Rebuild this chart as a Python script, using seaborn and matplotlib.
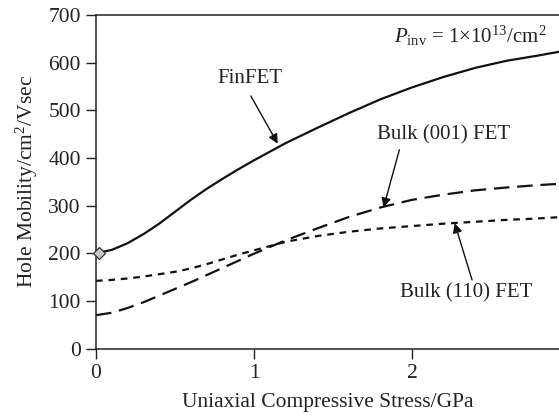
import numpy as np
import pandas as pd
import seaborn as sns
import matplotlib
matplotlib.use("Agg")
import matplotlib.pyplot as plt

# Hole mobility versus uniaxial compressive stress
stress_gpa = [0.0, 0.1, 0.2, 0.3, 0.4, 0.5, 0.6, 0.7, 0.8, 0.9, 1.0, 1.2, 1.4, 1.6, 1.8, 2.0, 2.2, 2.4, 2.6, 2.8, 2.95]
finfet = [200, 207, 221, 240, 262, 287, 312, 335, 356, 376, 395, 431, 463, 494, 523, 548, 570, 589, 604, 615, 624]
bulk_001 = [70, 75, 85, 97, 111, 125, 139, 154, 169, 184, 199, 227, 252, 276, 296, 312, 323, 332, 338, 343, 346]
bulk_110 = [142, 144, 147, 151, 156, 161, 168, 177, 187, 197, 206, 224, 236, 245, 252, 257, 262, 266, 270, 273, 276]

x_ticks = [0, 1, 2]
y_ticks = [0, 100, 200, 300, 400, 500, 600, 700]

sns.set_theme(style="white")
plt.rcParams["font.family"] = ["Liberation Serif", "DejaVu Serif"]
plt.rcParams["mathtext.fontset"] = "custom"
plt.rcParams["mathtext.rm"] = "Liberation Serif"
plt.rcParams["mathtext.it"] = "Liberation Serif:italic"

fig = plt.figure(figsize=(5.59, 4.18), dpi=100)
ax = fig.add_axes([96 / 559, (418 - 348.5) / 418, (559 - 96) / 559, (348.5 - 15) / 418])

df = pd.DataFrame({"stress": stress_gpa, "finfet": finfet,
                   "bulk001": bulk_001, "bulk110": bulk_110})

sns.lineplot(data=df, x="stress", y="finfet", ax=ax, color="#111111", lw=1.6)
sns.lineplot(data=df, x="stress", y="bulk001", ax=ax, color="#111111", lw=1.6)
ax.lines[-1].set_dashes([7, 3.5])
sns.lineplot(data=df, x="stress", y="bulk110", ax=ax, color="#111111", lw=1.6)
ax.lines[-1].set_dashes([3, 2.6])

# starting point marker on the FinFET curve
ax.plot([0.02], [finfet[0]], marker="D", ms=6.5, mfc="#c8c8c8", mec="#333333",
        mew=0.9, ls="none", clip_on=False, zorder=5)

ax.set_xlim(0, 463 / 158)
ax.set_ylim(0, 700)
ax.set_xticks(x_ticks)
ax.set_yticks(y_ticks)
ax.tick_params(axis="both", direction="out", length=7, width=1, colors="#222222",
               labelsize=15.5, pad=4, left=True, bottom=True)
for s in ["left", "bottom", "top"]:
    ax.spines[s].set_color("#222222")
    ax.spines[s].set_linewidth(1.1)
ax.spines["right"].set_visible(False)

ax.set_xlabel("Uniaxial Compressive Stress/GPa", fontsize=15.5, color="#222222", labelpad=7)
ax.set_ylabel("Hole Mobility/cm$^2$/Vsec", fontsize=15.5, color="#222222", labelpad=6)

arrow = dict(arrowstyle="-|>", color="#111111", lw=1.0, mutation_scale=14,
             shrinkA=0, shrinkB=0)
ax.text(0.975, 566, "FinFET", ha="center", va="center", fontsize=15, color="#222222")
ax.annotate("", xy=(1.15, 430), xytext=(0.98, 530), arrowprops=arrow)
ax.text(2.20, 448, "Bulk (001) FET", ha="center", va="center", fontsize=15, color="#222222")
ax.annotate("", xy=(1.82, 296), xytext=(1.92, 417), arrowprops=arrow)
ax.text(2.34, 116, "Bulk (110) FET", ha="center", va="center", fontsize=15, color="#222222")
ax.annotate("", xy=(2.27, 263), xytext=(2.38, 144), arrowprops=arrow)
ax.text(2.85, 656, r"$P_{\mathrm{inv}}$ = 1×10$^{13}$/cm$^2$", ha="right", va="center",
        fontsize=15, color="#222222")

fig.savefig("out.png", dpi=100)
